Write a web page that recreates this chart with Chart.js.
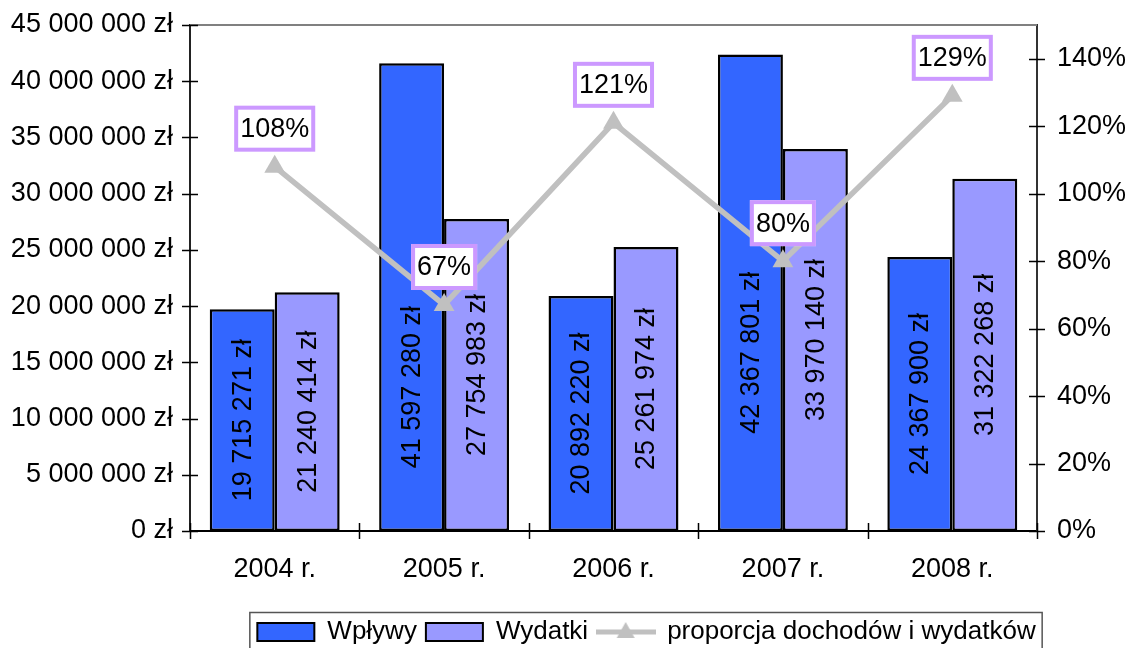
<!DOCTYPE html>
<html lang="pl">
<head>
<meta charset="utf-8">
<title>Wpływy i wydatki 2004-2008</title>
<script src="https://cdn.jsdelivr.net/npm/chart.js@4.4.1/dist/chart.umd.min.js"></script>
<style>
    html, body { margin: 0; padding: 0; background: #fff; }
    #chartBox { width: 1125px; height: 648px; }
</style>
</head>
<body>
<div id="chartBox"><canvas id="budgetChart" width="1125" height="648"></canvas></div>
<script>
// Chart data
const years = ["2004 r.", "2005 r.", "2006 r.", "2007 r.", "2008 r."];
const incomes = [19715271, 41597280, 20892220, 42367801, 24367900];
const expenses = [21240414, 27754983, 25261974, 33970140, 31322268];
const ratios = [108, 67, 121, 80, 129];
const seriesNames = ["Wpływy", "Wydatki", "proporcja dochodów i wydatków"];

// In the picture two of the Wpływy labels were pushed down (pixels)
const incomeLabelNudge = [0, 90, 0, 60, 0];

const FONT = "'Liberation Sans', Arial, sans-serif";
Chart.defaults.font.family = FONT;
Chart.defaults.font.size = 27;
Chart.defaults.color = "#000";

// Formats 19715271 -> "19 715 271 zł"
function formatZl(v) {
    return String(v).replace(/\B(?=(\d{3})+(?!\d))/g, " ") + " zł";
}

// Small picture for the line entry of the legend (line + triangle)
function makeLineSwatch() {
    const c = document.createElement("canvas");
    c.width = 60;
    c.height = 26;
    const g = c.getContext("2d");
    g.strokeStyle = "#C0C0C0";
    g.lineWidth = 5;
    g.beginPath();
    g.moveTo(0, 13);
    g.lineTo(60, 13);
    g.stroke();
    g.fillStyle = "#C0C0C0";
    g.beginPath();
    g.moveTo(30, 3);
    g.lineTo(39, 19);
    g.lineTo(21, 19);
    g.closePath();
    g.fill();
    return c;
}
const lineSwatch = makeLineSwatch();

// Legend in the picture sits right of centre
const LEGEND_SHIFT = 84;
const legendShift = {
    id: "legendShift",
    afterLayout(chart) {
        chart.legend.left += LEGEND_SHIFT;
        chart.legend.right += LEGEND_SHIFT;
    }
};

// Tick marks that cross the axes, the grey top border and the legend frame
const axisExtras = {
    id: "axisExtras",
    afterDraw(chart) {
        const ctx = chart.ctx;
        const area = chart.chartArea;
        const y = chart.scales.y;
        const y1 = chart.scales.y1;
        ctx.save();

        // top border of plot area
        ctx.strokeStyle = "#808080";
        ctx.lineWidth = 2;
        ctx.beginPath();
        ctx.moveTo(area.left, area.top);
        ctx.lineTo(area.right, area.top);
        ctx.stroke();

        ctx.strokeStyle = "#000";
        ctx.lineWidth = 1.5;
        ctx.beginPath();
        y.ticks.forEach(t => {
            const py = Math.round(y.getPixelForValue(t.value)) + 0.5;
            ctx.moveTo(area.left - 8, py);
            ctx.lineTo(area.left + 8, py);
        });
        y1.ticks.forEach(t => {
            const py = Math.round(y1.getPixelForValue(t.value)) + 0.5;
            ctx.moveTo(area.right - 8, py);
            ctx.lineTo(area.right + 8, py);
        });
        const n = years.length;
        const step = (area.right - area.left) / n;
        for (let i = 0; i <= n; i++) {
            const px = Math.round(area.left + i * step) + 0.5;
            ctx.moveTo(px, area.bottom - 8);
            ctx.lineTo(px, area.bottom + 8);
        }
        ctx.stroke();

        // legend frame
        const boxes = chart.legend.legendHitBoxes;
        if (boxes && boxes.length) {
            const left = Math.min(...boxes.map(b => b.left)) - 8;
            const right = Math.max(...boxes.map(b => b.left + b.width)) + 6;
            const top = chart.legend.top + 2;
            ctx.strokeStyle = "#555";
            ctx.lineWidth = 1.5;
            ctx.strokeRect(left + 0.5, top + 0.5, right - left, 60);
        }
        ctx.restore();
    }
};

// Vertical value labels inside the bars
const barLabels = {
    id: "barLabels",
    afterDatasetDraw(chart, args) {
        if (args.index > 1) return;
        const ctx = chart.ctx;
        const meta = args.meta;
        const values = chart.data.datasets[args.index].data;
        ctx.save();
        ctx.font = "27px " + FONT;
        ctx.fillStyle = "#000";
        ctx.textAlign = "center";
        ctx.textBaseline = "middle";
        meta.data.forEach((bar, i) => {
            let cy = (bar.y + bar.base) / 2;
            if (args.index === 0) cy += incomeLabelNudge[i];
            ctx.save();
            ctx.translate(bar.x + 1, cy);
            ctx.rotate(-Math.PI / 2);
            ctx.fillText(formatZl(values[i]), 0, 0);
            ctx.restore();
        });
        ctx.restore();
    }
};

// Boxed percentage labels above the line points
const ratioLabels = {
    id: "ratioLabels",
    afterDatasetsDraw(chart) {
        const ctx = chart.ctx;
        const meta = chart.getDatasetMeta(2);
        ctx.save();
        ctx.font = "27px " + FONT;
        ctx.textAlign = "center";
        ctx.textBaseline = "middle";
        meta.data.forEach((pt, i) => {
            const text = ratios[i] + "%";
            const w = ctx.measureText(text).width + 12;
            const h = 46;
            const bottom = pt.y - 15;
            const left = pt.x - w / 2;
            ctx.fillStyle = "#fff";
            ctx.fillRect(left, bottom - h, w, h);
            ctx.strokeStyle = "#CC99FF";
            ctx.lineWidth = 4;
            ctx.strokeRect(left + 2, bottom - h + 2, w - 4, h - 4);
            ctx.fillStyle = "#000";
            ctx.fillText(text, pt.x, bottom - h / 2 + 1);
        });
        ctx.restore();
    }
};

function noAxisPadding(scale) {
    scale.paddingTop = 0;
    scale.paddingBottom = 0;
}

function renderChart() {
    const ctx = document.getElementById("budgetChart");

    new Chart(ctx, {
        data: {
            labels: years,
            datasets: [
                {
                    type: "bar",
                    label: seriesNames[0],
                    data: incomes,
                    backgroundColor: "#3366FF",
                    borderColor: "#000",
                    borderWidth: 2.5,
                    borderSkipped: false,
                    categoryPercentage: 0.767,
                    barPercentage: 1.0,
                    yAxisID: "y",
                    order: 1
                },
                {
                    type: "bar",
                    label: seriesNames[1],
                    data: expenses,
                    backgroundColor: "#9999FF",
                    borderColor: "#000",
                    borderWidth: 2.5,
                    borderSkipped: false,
                    categoryPercentage: 0.767,
                    barPercentage: 1.0,
                    yAxisID: "y",
                    order: 1
                },
                {
                    type: "line",
                    label: seriesNames[2],
                    data: ratios,
                    borderColor: "#C0C0C0",
                    backgroundColor: "#C0C0C0",
                    borderWidth: 5.5,
                    tension: 0,
                    pointStyle: "triangle",
                    pointRadius: 12,
                    pointBorderWidth: 0,
                    pointBackgroundColor: "#C0C0C0",
                    yAxisID: "y1",
                    order: 0
                }
            ]
        },
        options: {
            responsive: false,
            animation: false,
            layout: {
                padding: { top: 25, left: 0, right: 0, bottom: -7 }
            },
            plugins: {
                tooltip: { enabled: false },
                legend: {
                    position: "bottom",
                    labels: {
                        usePointStyle: true,
                        pointStyleWidth: 57,
                        boxHeight: 18,
                        padding: 9,
                        color: "#000",
                        font: { size: 26 },
                        sort: (a, b) => a.datasetIndex - b.datasetIndex,
                        generateLabels(chart) {
                            const items = Chart.defaults.plugins.legend.labels.generateLabels(chart);
                            items.forEach(it => {
                                if (it.datasetIndex < 2) {
                                    it.pointStyle = "rect";
                                    it.lineWidth = 2;
                                    it.strokeStyle = "#000";
                                } else {
                                    it.pointStyle = lineSwatch;
                                }
                            });
                            return items;
                        }
                    }
                }
            },
            scales: {
                x: {
                    grid: { display: false, drawTicks: false },
                    border: { display: true, color: "#000", width: 2 },
                    ticks: { padding: 22, font: { size: 27 }, color: "#000" },
                    afterFit(scale) { scale.height = 79; }
                },
                y: {
                    position: "left",
                    min: 0,
                    max: 45000000,
                    grid: { display: false, drawTicks: false },
                    border: { display: true, color: "#222", width: 2 },
                    ticks: {
                        stepSize: 5000000,
                        padding: 17,
                        color: "#000",
                        font: { size: 27 },
                        callback: v => formatZl(v)
                    },
                    afterFit(scale) {
                        scale.width = 190;
                        noAxisPadding(scale);
                    }
                },
                y1: {
                    position: "right",
                    min: 0,
                    max: 150,
                    grid: { display: false, drawTicks: false },
                    border: { display: true, color: "#333", width: 2 },
                    ticks: {
                        stepSize: 20,
                        padding: 20,
                        color: "#000",
                        font: { size: 27 },
                        callback: v => v + "%"
                    },
                    afterBuildTicks(scale) {
                        scale.ticks = scale.ticks.filter(t => t.value <= 140);
                    },
                    afterFit(scale) {
                        scale.width = 88;
                        noAxisPadding(scale);
                    }
                }
            }
        },
        plugins: [legendShift, barLabels, ratioLabels, axisExtras]
    });
}

renderChart();
</script>
</body>
</html>
